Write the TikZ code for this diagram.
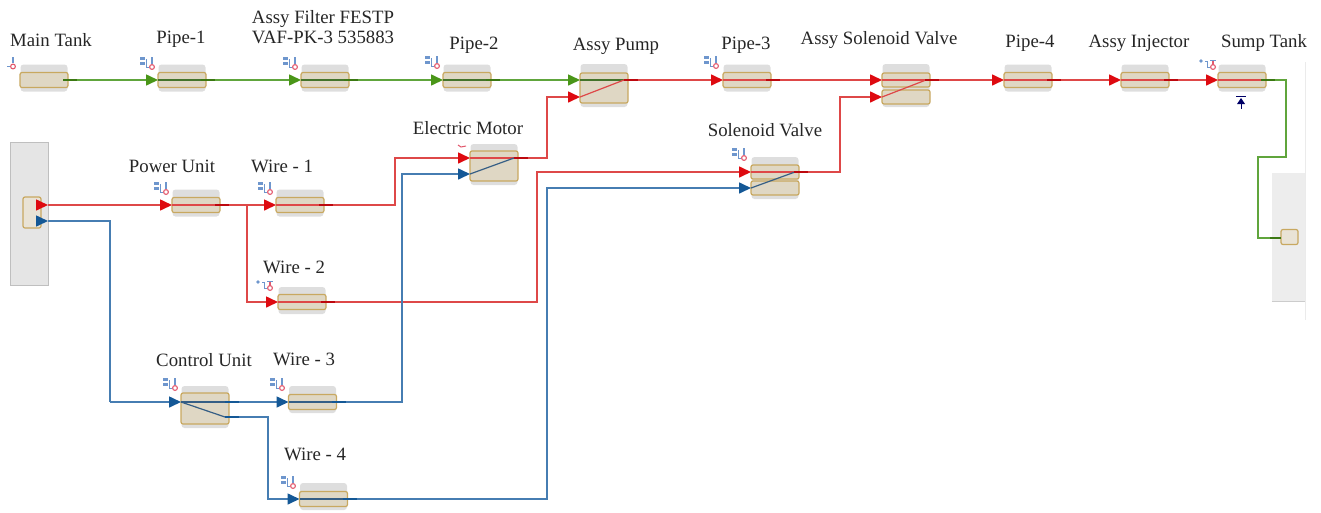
\documentclass[tikz,border=0pt]{standalone}
\usepackage{fontspec}
\setmainfont{Liberation Serif}
\usetikzlibrary{arrows.meta, backgrounds}

\definecolor{greenflow}{RGB}{96,165,60}
\definecolor{redflow}{RGB}{222,72,72}
\definecolor{blueflow}{RGB}{70,125,178}
\definecolor{greentip}{RGB}{74,150,24}
\definecolor{redtip}{RGB}{222,10,16}
\definecolor{bluetip}{RGB}{20,88,150}
\definecolor{tanfill}{RGB}{223,215,196}
\definecolor{tanline}{RGB}{200,168,96}
\definecolor{iconblue}{RGB}{110,150,205}
\definecolor{iconred}{RGB}{226,90,110}

\begin{document}
\begin{tikzpicture}[
        x=1pt, y=-1pt,
        % Blocks
        bodybox/.style={
                rectangle,
                rounded corners=2pt,
                minimum width=48,
                minimum height=15,
                inner sep=0pt,
                outer sep=0pt,
                fill=tanfill,
                draw=tanline,
                line width=1.2pt
            },
        backbox/.style={
                rectangle,
                rounded corners=3pt,
                minimum width=47,
                minimum height=27,
                inner sep=0pt,
                fill=black!13
            },
        portbox/.style={
                bodybox,
                fill=tanfill!70!white
            },
        panelbox/.style={
                rectangle,
                inner sep=0pt,
                fill=black!10,
                draw=black!25,
                line width=1pt
            },
        caption/.style={
                font=\fontsize{18.8}{20.5}\selectfont,
                align=center,
                inner sep=0pt,
                text=black!85
            },
        % Flow lines
        greenarrow/.style={
                ->,
                >={Triangle[length=12pt,width=11pt,color=greentip]},
                line width=1.6pt,
                color=greenflow
            },
        redarrow/.style={
                ->,
                >={Triangle[length=12pt,width=11pt,color=redtip]},
                line width=1.6pt,
                color=redflow
            },
        bluearrow/.style={
                ->,
                >={Triangle[length=12pt,width=11pt,color=bluetip]},
                line width=1.6pt,
                color=blueflow
            },
        greenline/.style={line width=1.6pt, color=greenflow},
        % Inner lines and outlet stubs
        greeninner/.style={line width=1.2pt, color=greenflow!70!black},
        redinner/.style={line width=1.2pt, color=redflow},
        blueinner/.style={line width=1.2pt, color=blueflow!75!black},
        greenstub/.style={line width=1.6pt, color=greentip!80!black},
        redstub/.style={line width=1.6pt, color=redtip!85!black},
        bluestub/.style={line width=1.6pt, color=bluetip},
        blueline/.style={line width=1.6pt, color=blueflow},
        % Small block icons
        pics/fullicon/.style={code={
                    \fill[iconblue] (-12,-10) rectangle (-7.5,-7);
                    \fill[iconblue] (-12,-5.5) rectangle (-7.5,-2.5);
                    \draw[iconblue, line width=0.9pt] (-6,-8) -- (-6,0) -- (-3,0);
                    \draw[iconblue, line width=2pt] (0,-10) -- (0,-3);
                    \draw[iconred, line width=1.1pt] (0,0) circle (2.4);
                }},
        pics/dimicon/.style={code={
                    \fill[iconblue] (-12,-6) circle (1.8);
                    \draw[iconblue, line width=0.9pt] (-8,-6) -- (-6,-6) -- (-6,0) -- (-3,0);
                    \draw[iconblue, line width=0.9pt] (-3,-7) -- (3,-7);
                    \draw[iconred, line width=1.1pt] (0,-6) -- (0,-2);
                    \draw[iconred, line width=1.1pt] (0,0) circle (2.4);
                }}
    ]
    \useasboundingbox (0,0) rectangle (1321,512);

    % Top row
    \node[bodybox] (maintank) at (44,80) {};
    \node[bodybox] (pipe1) at (182,80) {};
    \node[bodybox] (filter) at (325,80) {};
    \node[bodybox] (pipe2) at (467,80) {};
    \node[bodybox, minimum height=30] (pump) at (604,88) {};
    \node[bodybox] (pipe3) at (747,80) {};
    \node[bodybox, minimum height=14] (assyvalve) at (906,80) {};
    \node[bodybox, minimum height=14] (assyvalvelow) at (906,97) {};
    \node[bodybox] (pipe4) at (1028,80) {};
    \node[bodybox] (injector) at (1145,80) {};
    \node[bodybox] (sumptank) at (1242,80) {};

    % Lower blocks
    \node[bodybox] (powerunit) at (196,205) {};
    \node[bodybox] (wire1) at (300,205) {};
    \node[bodybox] (wire2) at (302,302) {};
    \node[bodybox, minimum height=31] (controlunit) at (205,408.5) {};
    \node[bodybox] (wire3) at (312.5,402) {};
    \node[bodybox] (wire4) at (323.5,499) {};
    \node[bodybox, minimum height=30] (motor) at (494,166) {};
    \node[bodybox, minimum height=14] (solenoid) at (775,172) {};
    \node[bodybox, minimum height=14] (solenoidlow) at (775,188) {};

    % Boundary ports
    \node[portbox, minimum width=18, minimum height=31] (sourceport) at (32,212.5) {};
    \node[portbox, minimum width=17, minimum height=15] (sinkport) at (1289.5,237) {};

    % Panels and grey backs
    \begin{scope}[on background layer]
        \node[panelbox, minimum width=38, minimum height=143] (sourcepanel) at (29,213.5) {};
        \node[panelbox, draw=none, fill=black!7, minimum width=33, minimum height=128] (sinkpanel) at (1288.5,237) {};
        \draw[black!20, line width=1pt] (sinkpanel.south west) -- (sinkpanel.south east);
        \draw[black!8, line width=1pt] (1305,62) -- (1305,320);
        \node[backbox] (maintankback) at (44,78) {};
        \node[backbox] (pipe1back) at (182,78) {};
        \node[backbox] (filterback) at (325,78) {};
        \node[backbox] (pipe2back) at (467,78) {};
        \node[backbox, minimum height=43] (pumpback) at (604,85.5) {};
        \node[backbox] (pipe3back) at (747,78) {};
        \node[backbox, minimum height=43] (assyvalveback) at (906,85.5) {};
        \node[backbox] (pipe4back) at (1028,78) {};
        \node[backbox] (injectorback) at (1145,78) {};
        \node[backbox] (sumptankback) at (1242,78) {};
        \node[backbox] (powerunitback) at (196,203) {};
        \node[backbox] (wire1back) at (300,203) {};
        \node[backbox] (wire2back) at (302,300.5) {};
        \node[backbox, minimum height=42] (controlunitback) at (205,407) {};
        \node[backbox] (wire3back) at (312.5,399.5) {};
        \node[backbox] (wire4back) at (323.5,496.5) {};
        \node[backbox, minimum height=41] (motorback) at (494,164.5) {};
        \node[backbox, minimum height=42] (solenoidback) at (775,178) {};
    \end{scope}

    % Second inlets and outlets
    \coordinate (pumpina) at (580,80);
    \coordinate (pumpinb) at (580,97);
    \coordinate (pumpout) at (624,80);
    \coordinate (motorina) at (470,158);
    \coordinate (motorinb) at (470,174);
    \coordinate (motorout) at (514,158);
    \coordinate (controlin) at (181,402);
    \coordinate (controlouta) at (225,402);
    \coordinate (controloutb) at (225,417);
    \coordinate (sourcered) at (36,205);
    \coordinate (sourceblue) at (36,221);
    \coordinate (redbranch) at (247,205);

    % Green line
    \draw[greenarrow] (maintank.east) -- (pipe1.west);
    \draw[greenarrow] (pipe1.east) -- (filter.west);
    \draw[greenarrow] (filter.east) -- (pipe2.west);
    \draw[greenarrow] (pipe2.east) -- (pumpina);
    \draw[greenline] (sumptank.east) -| (1286,157) -| (1258,238) -- (sinkport.west |- 0,238);

    % Red line
    \draw[redarrow] (sourcered) -- (48,205);
    \draw[redarrow] (48,205) -- (powerunit.west);
    \draw[redarrow] (powerunit.east) -- (wire1.west);
    \draw[redarrow] (redbranch) |- (wire2.west);
    \draw[redarrow] (wire1.east) -| (395,158) -- (motorina);
    \draw[redarrow] (wire2.east) -| (537,172) -- (solenoid.west);
    \draw[redarrow] (motor.east |- motorout) -| (547,97) -- (pumpinb);
    \draw[redarrow] (pump.east |- pumpout) -- (pipe3.west);
    \draw[redarrow] (pipe3.east) -- (assyvalve.west);
    \draw[redarrow] (solenoid.east) -| (840,97) -- (assyvalvelow.west);
    \draw[redarrow] (assyvalve.east) -- (pipe4.west);
    \draw[redarrow] (pipe4.east) -- (injector.west);
    \draw[redarrow] (injector.east) -- (sumptank.west);

    % Blue line
    \draw[bluearrow] (sourceblue) -- (48,221);
    \draw[blueline] (48,221) -| (110,402);
    \draw[bluearrow] (110,402) -- (controlin);
    \draw[bluearrow] (controlouta) -- (wire3.west);
    \draw[bluearrow] (controloutb) -| (268,499) -- (wire4.west);
    \draw[bluearrow] (wire3.east) -| (402,174) -- (motorinb);
    \draw[bluearrow] (wire4.east) -| (547,188) -- (solenoidlow.west);

    % Lines inside the blocks
    \draw[greeninner] (pipe1.west) -- (pipe1.east);
    \draw[greeninner] (filter.west) -- (filter.east);
    \draw[greeninner] (pipe2.west) -- (pipe2.east);
    \draw[greeninner] (pumpina) -- (pumpout);
    \draw[redinner] (pumpinb) -- (pumpout);
    \draw[redinner] (pipe3.west) -- (pipe3.east);
    \draw[redinner] (assyvalve.west) -- (assyvalve.east);
    \draw[redinner] (assyvalvelow.west) -- ([xshift=-4pt]assyvalve.east);
    \draw[redinner] (pipe4.west) -- (pipe4.east);
    \draw[redinner] (injector.west) -- (injector.east);
    \draw[redinner] (sumptank.west) -- (sumptank.east);
    \draw[redinner] (powerunit.west) -- (powerunit.east);
    \draw[redinner] (wire1.west) -- (wire1.east);
    \draw[redinner] (wire2.west) -- (wire2.east);
    \draw[redinner] (motorina) -- (motorout);
    \draw[blueinner] (motorinb) -- (motorout);
    \draw[redinner] (solenoid.west) -- (solenoid.east);
    \draw[blueinner] (solenoidlow.west) -- ([xshift=-4pt]solenoid.east);
    \draw[blueinner] (controlin) -- (controlouta);
    \draw[blueinner] (controlin) -- (controloutb);
    \draw[blueinner] (wire3.west) -- (wire3.east);
    \draw[blueinner] (wire4.west) -- (wire4.east);

    % Outlet stubs
    \draw[greenstub] ([xshift=-5pt]maintank.east) -- ++(14,0);
    \draw[greenstub] ([xshift=-5pt]pipe1.east) -- ++(14,0);
    \draw[greenstub] ([xshift=-5pt]filter.east) -- ++(14,0);
    \draw[greenstub] ([xshift=-5pt]pipe2.east) -- ++(14,0);
    \draw[redstub] (pumpout) -- ++(14,0);
    \draw[redstub] ([xshift=-5pt]pipe3.east) -- ++(14,0);
    \draw[redstub] ([xshift=-5pt]assyvalve.east) -- ++(14,0);
    \draw[redstub] ([xshift=-5pt]pipe4.east) -- ++(14,0);
    \draw[redstub] ([xshift=-5pt]injector.east) -- ++(14,0);
    \draw[greenstub] ([xshift=-5pt]sumptank.east) -- ++(14,0);
    \draw[redstub] ([xshift=-5pt]powerunit.east) -- ++(14,0);
    \draw[redstub] ([xshift=-5pt]wire1.east) -- ++(14,0);
    \draw[redstub] ([xshift=-5pt]wire2.east) -- ++(14,0);
    \draw[redstub] (motorout) -- ++(14,0);
    \draw[redstub] ([xshift=-5pt]solenoid.east) -- ++(14,0);
    \draw[bluestub] (controlouta) -- ++(14,0);
    \draw[bluestub] (controloutb) -- ++(14,0);
    \draw[bluestub] ([xshift=-5pt]wire3.east) -- ++(14,0);
    \draw[bluestub] ([xshift=-5pt]wire4.east) -- ++(14,0);
    \draw[greenstub] ([xshift=-11pt]sinkport.west |- 0,238) -- (sinkport.west |- 0,238);

    % Icons
    \draw[iconblue, line width=0.9pt] (7,66) -- (10,66);
    \draw[iconblue, line width=2pt] (13,57) -- (13,63);
    \draw[iconred, line width=1.1pt] (13,66.5) circle (2.4);
    \pic at (152,67) {fullicon};
    \pic at (295,67) {fullicon};
    \pic at (437,66) {fullicon};
    \pic at (716,66) {fullicon};
    \pic at (166,192) {fullicon};
    \pic at (270,192) {fullicon};
    \pic at (175,388) {fullicon};
    \pic at (282,388) {fullicon};
    \pic at (293,486) {fullicon};
    \pic at (744,158) {fullicon};
    \pic at (1213,67) {dimicon};
    \pic at (270,288) {dimicon};
    \draw[iconred, line width=1pt] (458,145) -- (461,147) -- (466,146);

    % Sump mark
    \draw[blue!40!black, line width=1pt] (1236,96.5) -- (1246,96.5);
    \fill[blue!40!black] (1241,98) -- (1245,104) -- (1237,104) -- cycle;
    \draw[blue!40!black, line width=1pt] (1241,103) -- (1241,108.5);

    % Labels
    \node[caption] (lmaintank) at (51,40) {Main Tank};
    \node[caption] (lpipe1) at (181,39) {Pipe-1};
    \node[caption] (lfilter) at (323,27) {Assy Filter FESTP\\VAF-PK-3 535883};
    \node[caption] (lpipe2) at (474,45) {Pipe-2};
    \node[caption] (lpump) at (616,46) {Assy Pump};
    \node[caption] (lpipe3) at (746,45) {Pipe-3};
    \node[caption] (lassyvalve) at (879,40) {Assy Solenoid Valve};
    \node[caption] (lpipe4) at (1030,43) {Pipe-4};
    \node[caption] (linjector) at (1139,43) {Assy Injector};
    \node[caption] (lsumptank) at (1264,43) {Sump Tank};
    \node[caption] (lmotor) at (468,128) {Electric Motor};
    \node[caption] (lsolenoid) at (765,130) {Solenoid Valve};
    \node[caption] (lpowerunit) at (172,166) {Power Unit};
    \node[caption] (lwire1) at (282,166) {Wire - 1};
    \node[caption] (lwire2) at (294,267) {Wire - 2};
    \node[caption] (lcontrolunit) at (204,360) {Control Unit};
    \node[caption] (lwire3) at (304,359) {Wire - 3};
    \node[caption] (lwire4) at (315,454) {Wire - 4};

\end{tikzpicture}
\end{document}
